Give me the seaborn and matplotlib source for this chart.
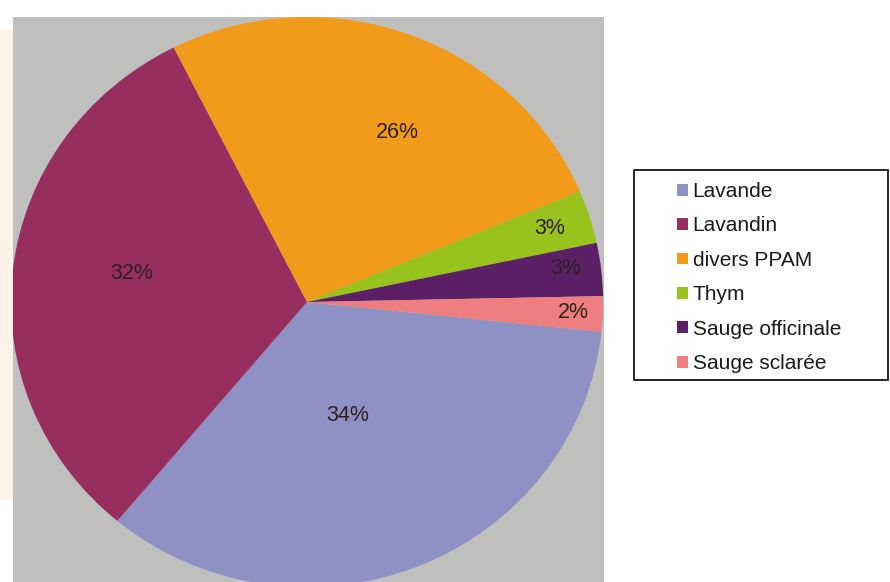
import numpy as np
import matplotlib.pyplot as plt
import seaborn as sns
from matplotlib.patches import Rectangle

# donnees
categories = ["Lavande", "Lavandin", "divers PPAM", "Thym", "Sauge officinale", "Sauge sclarée"]
parts = [34.4, 31.5, 26.1, 3.0, 3.0, 2.0]
etiquettes = ["34%", "32%", "26%", "3%", "3%", "2%"]

couleurs = ["#8f91c4", "#962f5f", "#f29a1a", "#98c21c", "#5b1f66", "#ee7e80"]

# position des etiquettes (fraction du rayon, decalage d'angle)
dist_etiq = [0.42, 0.60, 0.67, 0.86, 0.88, 0.90]
decal_angle = [-3, -3, -7, 0, 1, 0]

sns.set_style("white")
plt.rcParams['font.family'] = ['Liberation Sans', 'DejaVu Sans']

W, H = 890, 582
fig = plt.figure(figsize=(W / 100, H / 100), dpi=100)
fig.patch.set_facecolor("white")

# petit reflet peche a gauche
fig.patches.append(Rectangle((0, 1 - 500 / H), 13 / W, 470 / H, transform=fig.transFigure,
                             facecolor="#fdf3e8", edgecolor="none", zorder=0))

ax = fig.add_axes([13 / W, 0, 591 / W, 565 / H])
palette = sns.color_palette(couleurs)
wedges, _ = ax.pie(parts, colors=palette, startangle=-6, counterclock=False,
                   wedgeprops=dict(linewidth=0))
ax.set_aspect('auto')
ax.set_frame_on(True)
ax.set_facecolor("#bfc0bd")
for s in ax.spines.values():
    s.set_visible(False)
ax.set_xlim(-0.993, 1.003)
ax.set_ylim(-0.982, 1.0)

for w, txt, d, da in zip(wedges, etiquettes, dist_etiq, decal_angle):
    theta = np.deg2rad((w.theta1 + w.theta2) / 2 + da)
    ax.text(d * np.cos(theta), d * np.sin(theta), txt, ha="center", va="center",
            fontsize=15.5, color="#2e2020")

# cadre de la legende
fig.patches.append(Rectangle((634 / W, 1 - 380 / H), 254 / W, 210 / H, transform=fig.transFigure,
                             facecolor="white", edgecolor="black", linewidth=1.2, zorder=1))
leg = fig.legend(wedges, categories, loc="upper left", bbox_to_anchor=(677 / W, 1 - 182 / H),
                 frameon=False, fontsize=15, handlelength=0.53, handleheight=0.5,
                 handletextpad=0.22, labelspacing=0.74, borderpad=0, borderaxespad=0)
for t in leg.get_texts():
    t.set_color("#1a1a1a")

plt.savefig("out.png", dpi=100)
